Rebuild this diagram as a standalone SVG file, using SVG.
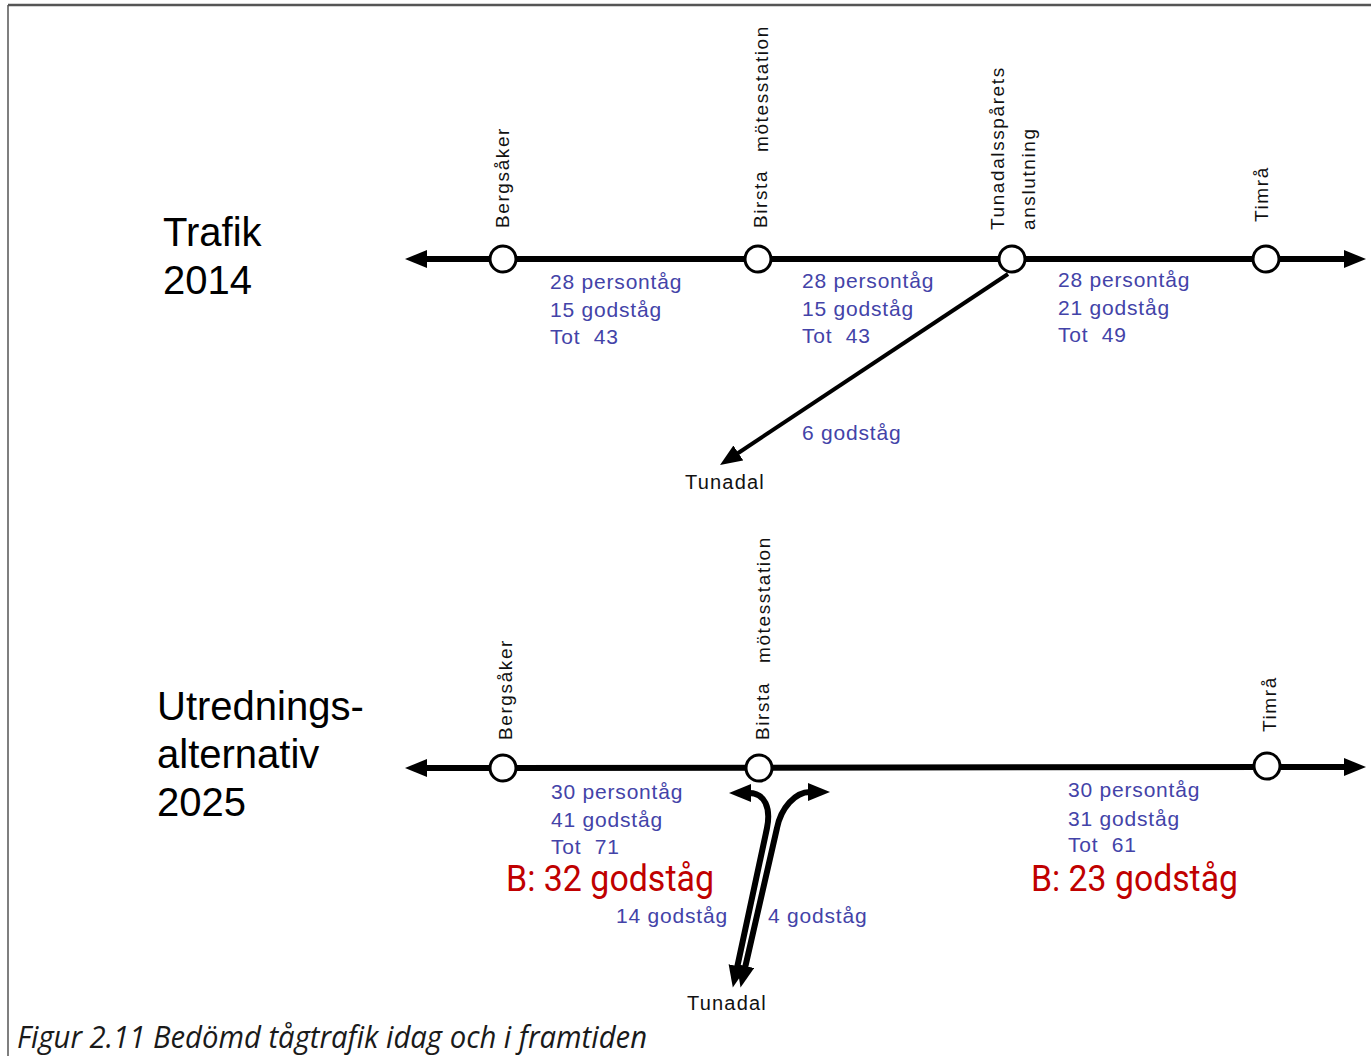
<svg xmlns="http://www.w3.org/2000/svg" width="1371" height="1056" viewBox="0 0 1371 1056">
<style>
.st{fill:#fff;stroke:#000;stroke-width:3}
.vl{font-family:"Liberation Sans",Arial,sans-serif;font-size:19px;letter-spacing:1.6px;fill:#111}
.bl{font-family:"Liberation Sans",Arial,sans-serif;font-size:21px;letter-spacing:0.8px;fill:#4343a8;white-space:pre}
.tt{font-family:"Liberation Sans",Arial,sans-serif;font-size:40px;fill:#000}
.red{font-family:Roboto,"Liberation Sans",sans-serif;font-size:36px;fill:#c00000}
.blk{font-family:"Liberation Sans",Arial,sans-serif;font-size:20px;letter-spacing:1.2px;fill:#111}
.cap{font-family:"Open Sans","Liberation Sans",sans-serif;font-style:italic;font-size:31px;fill:#1a1a1a}
.trk{stroke:#000;stroke-width:6;fill:none}
.br{stroke:#000;fill:none}
</style>
<defs>
<marker id="ah" markerUnits="userSpaceOnUse" markerWidth="24" markerHeight="20" refX="2" refY="9" orient="auto-start-reverse"><path d="M0,0 L22,9 L0,18 z" fill="#000"/></marker>
</defs>
<rect width="1371" height="1056" fill="#fff"/>
<g id="frame">
<line x1="8" y1="5" x2="1371" y2="5" stroke="#555" stroke-width="2.5"/>
<line x1="8" y1="5" x2="8" y2="1056" stroke="#555" stroke-width="1.5"/>
</g>

<g id="connectors">
<path class="trk" d="M425,259 L1346,259" marker-start="url(#ah)" marker-end="url(#ah)"/>
<path class="br" stroke-width="4" d="M1008,274 L736.7,454" marker-end="url(#ah)"/>
<path class="trk" d="M425,768 L1346,767" marker-start="url(#ah)" marker-end="url(#ah)"/>
<path class="br" stroke-width="6" d="M737,968 L767,828 C771,808 765,793 749,793" marker-start="url(#ah)" marker-end="url(#ah)"/>
<path class="br" stroke-width="6" d="M745,968 L777,828 C781,808 795,792 810,792" marker-start="url(#ah)" marker-end="url(#ah)"/>
</g>

<g id="titles">
<text class="tt" x="163" y="246">Trafik</text>
<text class="tt" x="163" y="294">2014</text>
<text class="tt" x="157" y="720">Utrednings-</text>
<text class="tt" x="157" y="768">alternativ</text>
<text class="tt" x="157" y="816">2025</text>
</g>

<g id="node-bergsaker-2014">
<circle class="st" cx="503" cy="259" r="13"/>
<text class="vl" transform="translate(509,228) rotate(-90)">Bergsåker</text>
</g>
<g id="node-birsta-2014">
<circle class="st" cx="758" cy="259" r="13"/>
<text class="vl" transform="translate(767,228) rotate(-90)">Birsta</text>
<text class="vl" transform="translate(768,152) rotate(-90)">mötesstation</text>
</g>
<g id="node-tunadalsparet-2014">
<circle class="st" cx="1012" cy="259" r="13"/>
<text class="vl" transform="translate(1004,230) rotate(-90)">Tunadalsspårets</text>
<text class="vl" transform="translate(1035,230) rotate(-90)">anslutning</text>
</g>
<g id="node-timra-2014">
<circle class="st" cx="1266" cy="259" r="13"/>
<text class="vl" transform="translate(1268,222) rotate(-90)">Timrå</text>
</g>
<g id="node-tunadal-2014">
<text class="blk" x="685" y="489">Tunadal</text>
</g>

<g id="labels-2014">
<text class="bl" x="550" y="289">28 persontåg</text>
<text class="bl" x="550" y="317">15 godståg</text>
<text class="bl" x="550" y="344">Tot  43</text>
<text class="bl" x="802" y="288">28 persontåg</text>
<text class="bl" x="802" y="316">15 godståg</text>
<text class="bl" x="802" y="343">Tot  43</text>
<text class="bl" x="1058" y="287">28 persontåg</text>
<text class="bl" x="1058" y="315">21 godståg</text>
<text class="bl" x="1058" y="342">Tot  49</text>
<text class="bl" x="802" y="440">6 godståg</text>
</g>

<g id="node-bergsaker-2025">
<circle class="st" cx="503" cy="768" r="13"/>
<text class="vl" transform="translate(512,740) rotate(-90)">Bergsåker</text>
</g>
<g id="node-birsta-2025">
<circle class="st" cx="759" cy="768" r="13"/>
<text class="vl" transform="translate(769,740) rotate(-90)">Birsta</text>
<text class="vl" transform="translate(770,663) rotate(-90)">mötesstation</text>
</g>
<g id="node-timra-2025">
<circle class="st" cx="1267" cy="766" r="13"/>
<text class="vl" transform="translate(1276,732) rotate(-90)">Timrå</text>
</g>
<g id="node-tunadal-2025">
<text class="blk" x="687" y="1010">Tunadal</text>
</g>

<g id="labels-2025">
<text class="bl" x="551" y="799">30 persontåg</text>
<text class="bl" x="551" y="827">41 godståg</text>
<text class="bl" x="551" y="854">Tot  71</text>
<text class="bl" x="1068" y="797">30 persontåg</text>
<text class="bl" x="1068" y="826">31 godståg</text>
<text class="bl" x="1068" y="852">Tot  61</text>
<text class="bl" x="616" y="923">14 godståg</text>
<text class="bl" x="768" y="923">4 godståg</text>
<text class="red" x="506" y="891" textLength="208" lengthAdjust="spacingAndGlyphs">B: 32 godståg</text>
<text class="red" x="1031" y="891" textLength="207" lengthAdjust="spacingAndGlyphs">B: 23 godståg</text>
</g>

<text class="cap" x="17" y="1048" textLength="630" lengthAdjust="spacingAndGlyphs">Figur 2.11 Bedömd tågtrafik idag och i framtiden</text>
</svg>
